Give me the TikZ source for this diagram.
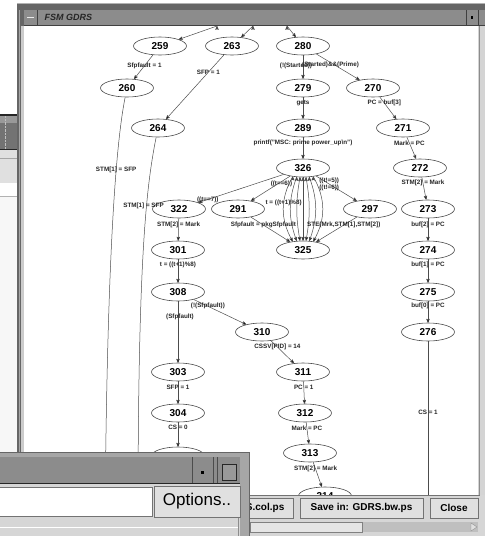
\documentclass[tikz,border=0pt]{standalone}
\usepackage{fontspec}
\setmainfont{Liberation Sans}
\usepackage{tikz}
\usetikzlibrary{arrows,shapes.geometric}

\definecolor{titlebar}{HTML}{8C8C8C}
\definecolor{panel}{HTML}{D6D6D6}

\begin{document}
\begin{tikzpicture}[x=1pt,y=-1pt,
  fsmstate/.style={ellipse,draw=black!70,line width=.6pt,minimum width=53pt,minimum height=18pt,inner sep=0pt,font=\bfseries\fontsize{10}{10}\selectfont},
  lbl/.style={font=\bfseries\fontsize{6.3}{7}\selectfont,inner sep=0pt,text=black!85},
  trans/.style={->,>=stealth',draw=black!70,line width=.5pt},
  btn/.style={draw=black!55,fill=black!12,line width=.6pt,inner sep=0pt,font=\bfseries\fontsize{10}{10}\selectfont}]
\useasboundingbox (0,0) rectangle (485,536);
\fill[white] (0,0) rectangle (485,536);

% window behind, left
\fill[black!85] (0,114) rectangle (17,116);
\fill[black!40] (0,116) rectangle (17,123);
\fill[black!55] (0,123) rectangle (17,149);
\draw[black!25,densely dotted] (5,116) -- (5,149);
\fill[black!85] (0,149) rectangle (17,150);
\fill[black!12] (0,150) rectangle (17,183);
\draw[black!35] (0,158) -- (17,158);
\draw[black!30] (0,196) -- (17,196);
\fill[black!3] (0,197) rectangle (17,452);

% FSM GDRS window
\fill[black!30] (17,3) rectangle (490,540);
\fill[black!60] (17,4) rectangle (490,540);
\draw[black!35] (19,10) -- (19,495);
\fill[black!20] (21,26) rectangle (24,495);
\fill[titlebar] (24,10) rectangle (486,25);
\draw[black!75] (24,25.5) -- (486,25.5);
\draw[black!75] (37,10) -- (37,25);
\draw[black!8,line width=1.3pt] (27,17.5) -- (34,17.5);
\node[anchor=west,font=\bfseries\itshape\fontsize{9}{9}\selectfont,text=black!85] (title) at (41,17.5) {FSM GDRS};
\draw[black!75] (466,10) -- (466,25) (478,10) -- (478,25);
\fill[black] (470.8,16.3) rectangle (473.3,18.8);
\fill[white] (24,26) rectangle (478,495);

% graph
\begin{scope}
\clip (24,26) rectangle (478,495);
\coordinate (t259) at (217,26);
\coordinate (t263) at (253,26);
\coordinate (t280) at (287,26);
\coordinate (b260) at (105,520);
\coordinate (b264) at (138,520);
\coordinate (b276) at (428,520);

\draw (160,46) node[fsmstate] (n259) {259};
\draw (232,46) node[fsmstate] (n263) {263};
\draw (303,46) node[fsmstate] (n280) {280};
\draw (127,88) node[fsmstate] (n260) {260};
\draw (303,88) node[fsmstate] (n279) {279};
\draw (373,88) node[fsmstate] (n270) {270};
\draw (158,128) node[fsmstate] (n264) {264};
\draw (303,128) node[fsmstate] (n289) {289};
\draw (403,128) node[fsmstate] (n271) {271};
\draw (303,168) node[fsmstate] (n326) {326};
\draw (420,168) node[fsmstate] (n272) {272};
\draw (179,209) node[fsmstate] (n322) {322};
\draw (238,209) node[fsmstate] (n291) {291};
\draw (370,209) node[fsmstate] (n297) {297};
\draw (428,209) node[fsmstate] (n273) {273};
\draw (178,250) node[fsmstate] (n301) {301};
\draw (303,250) node[fsmstate] (n325) {325};
\draw (428,250) node[fsmstate] (n274) {274};
\draw (178,292) node[fsmstate] (n308) {308};
\draw (428,292) node[fsmstate] (n275) {275};
\draw (262,332) node[fsmstate] (n310) {310};
\draw (428,332) node[fsmstate] (n276) {276};
\draw (178,372) node[fsmstate] (n303) {303};
\draw (303,372) node[fsmstate] (n311) {311};
\draw (178,413) node[fsmstate] (n304) {304};
\draw (305,413) node[fsmstate] (n312) {312};
\draw (178,456) node[fsmstate] (n305) {305};
\draw (310,453) node[fsmstate] (n313) {313};
\draw (325,496) node[fsmstate] (n314) {314};

\path[trans] (t259) edge (n259);
\path[trans] (t263) edge (n263);
\path[trans] (t280) edge (n280);
\path[trans] (n259) edge node[lbl,pos=.45] {Sfpfault = 1} (n260);
\path[trans] (n263) edge node[lbl,pos=.27] {SFP = 1} (n264);
\path[trans] (n280) edge node[lbl,pos=.46,xshift=-7pt] {(!(Started))} (n279);
\path[trans] (n280) edge node[lbl,pos=.42,xshift=-4pt] {(Started)\&\&(Prime)} (n270);
\path[trans] (n279) edge node[lbl,pos=.27] {gets} (n289);
\path[trans] (n270) edge node[lbl,pos=.28] {PC = buf[3]} (n271);
\path[trans] (n289) edge node[lbl,pos=.27] {printf("MSC: prime power\_up\textbackslash n")} (n326);
\path[trans] (n271) edge node[lbl,pos=.27] {Mark = PC} (n272);
\path[trans] (n272) edge node[lbl,pos=.26] {STM[2] = Mark} (n273);
\path[trans] (n273) edge node[lbl,pos=.3] {buf[2] = PC} (n274);
\path[trans] (n274) edge node[lbl,pos=.25] {buf[1] = PC} (n275);
\path[trans] (n275) edge node[lbl,pos=.23] {buf[0] = PC} (n276);
\path[trans] (n276) edge node[lbl,pos=.4] {CS = 1} (b276);
\draw[trans] (n260) .. controls +(-12,60) and +(2,-250) .. (b260) node[lbl,pos=.32] {STM[1] = SFP};
\draw[trans] (n264) .. controls +(-12,60) and +(0,-260) .. (b264) node[lbl,pos=.35,xshift=-3pt] {STM[1] = SFP};

\path[trans] (n326) edge node[lbl,pos=.89] {((t==7))} (n322);
\path[trans] (n326) edge node[lbl,pos=.22,yshift=-2pt] {((t==6))} (n291);
\path[trans] (n326) edge node[lbl,pos=.32,align=center] {((t!=5))\\((t!=6))} (n297);
\path[trans] (n326.220) edge[bend right=30] node[lbl,pos=.4] {t = ((t+1)\%8)} (n325.140);
\path[trans] (n326.235) edge[bend right=20] (n325.125);
\path[trans] (n326.252) edge[bend right=10] (n325.108);
\path[trans] (n326.270) edge (n325.90);
\path[trans] (n326.288) edge[bend left=10] (n325.72);
\path[trans] (n326.305) edge[bend left=20] (n325.55);
\path[trans] (n326.320) edge[bend left=30] (n325.40);
\path[trans] (n291) edge node[lbl,pos=.32] {Sfpfault = pkgSfpfault} (n325);
\path[trans] (n297) edge node[lbl,pos=.32] {STE(Mrk,STM[1],STM[2])} (n325);

\path[trans] (n322) edge node[lbl,pos=.3] {STM[2] = Mark} (n301);
\path[trans] (n301) edge node[lbl,pos=.25] {t = ((t+1)\%8)} (n308);
\path[trans] (n308) edge node[lbl,pos=.27] {(!(Sfpfault))} (n310);
\path[trans] (n308) edge node[lbl,pos=.26,xshift=2pt] {(Sfpfault)} (n303);
\path[trans] (n310) edge node[lbl,pos=.28] {CSSV[PID] = 14} (n311);
\path[trans] (n303) edge node[lbl,pos=.26] {SFP = 1} (n304);
\path[trans] (n311) edge node[lbl,pos=.26] {PC = 1} (n312);
\path[trans] (n304) edge node[lbl,pos=.2] {CS = 0} (n305);
\path[trans] (n312) edge node[lbl,pos=.27] {Mark = PC} (n313);
\path[trans] (n313) edge node[lbl,pos=.28] {STM[2] = Mark} (n314);
\end{scope}

% right strip and bottom of the window
\fill[black!17] (478,26) rectangle (485,495);
\draw[black!45] (479.5,26) -- (479.5,495);
\fill[panel] (24,495) rectangle (485,536);
\draw[black!55] (24,495) -- (480,495);
\node[btn,minimum width=120pt,minimum height=20pt] (savecol) at (233,508) {Save in: GDRS.col.ps};
\node[btn,minimum width=123pt,minimum height=20pt] (savebw) at (361.5,508) {Save in: GDRS.bw.ps};
\node[btn,minimum width=48pt,minimum height=20pt] (close) at (454,508) {Close};
\fill[black!25] (250,522) rectangle (478,532);
\draw[black!50,fill=black!10] (250,522) rectangle (362,532);
\draw[black!45,fill=black!12] (471,523) -- (477,527) -- (471,531) -- cycle;

% window in front, bottom left
\fill[black!35] (0,452) rectangle (249,536);
\draw[black!60] (0,452.5) -- (249,452.5) -- (249,536);
\fill[titlebar] (0,457) rectangle (240,483);
\draw[black!85] (0,483.5) -- (240,483.5);
\draw[black!70] (192.5,457) -- (192.5,483) (213.5,457) -- (213.5,483) (217.5,457) -- (217.5,483);
\fill[black] (200.8,470.5) rectangle (203.8,473.5);
\draw[black!85,line width=.9pt,fill=black!40] (222.5,464.5) rectangle (236.5,480.5);
\fill[panel] (0,484) rectangle (240,536);
\fill[white] (0,487) rectangle (152,516);
\draw[black!55] (0,487) -- (152,487) -- (152,516) -- (0,516);
\node[btn,minimum width=86pt,minimum height=31pt,font=\fontsize{17}{17}\selectfont] (options) at (197,501.5) {Options..};
\draw[white] (0,527) -- (238,527);
\draw[black!45] (238.5,518) -- (238.5,536);
\end{tikzpicture}
\end{document}
